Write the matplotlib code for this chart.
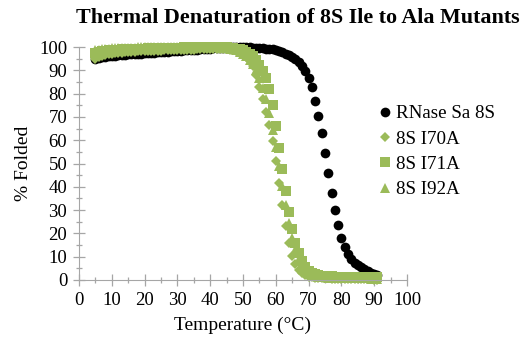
import matplotlib
matplotlib.use("Agg")
import matplotlib.pyplot as plt
from matplotlib.ticker import MultipleLocator

plt.rcParams["font.family"] = ["Liberation Serif", "DejaVu Serif"]

GREEN = "#9BBB59"
AXIS = "#A6A6A6"

temp_c = [5, 6, 7, 8, 9, 10, 11, 12, 13, 14,
          15, 16, 17, 18, 19, 20, 21, 22, 23, 24,
          25, 26, 27, 28, 29, 30, 31, 32, 33, 34,
          35, 36, 37, 38, 39, 40, 41, 42, 43, 44,
          45, 46, 47, 48, 49, 50, 51, 52, 53, 54,
          55, 56, 57, 58, 59, 60, 61, 62, 63, 64,
          65, 66, 67, 68, 69, 70, 71, 72, 73, 74,
          75, 76, 77, 78, 79, 80, 81, 82, 83, 84,
          85, 86, 87, 88, 89, 90, 91]

wt_8s = [95.0, 95.3, 95.6, 95.8, 96.0, 96.2, 96.3, 96.4, 96.5, 96.7,
         96.8, 96.9, 97.0, 97.1, 97.2, 97.3, 97.4, 97.5, 97.6, 97.7,
         97.8, 97.9, 98.0, 98.1, 98.2, 98.3, 98.4, 98.5, 98.6, 98.7,
         98.8, 98.9, 99.0, 99.1, 99.2, 99.3, 99.4, 99.5, 99.6, 99.7,
         99.8, 99.9, 99.9, 100.0, 100.0, 100.0, 99.9, 99.8, 99.7, 99.6,
         99.5, 99.4, 99.3, 99.2, 99.0, 98.7, 98.3, 97.8, 97.2, 96.5,
         95.7, 94.8, 93.6, 92.0, 89.8, 86.8, 83.0, 77.0, 70.5, 63.0,
         54.5, 46.0, 37.5, 30.0, 23.5, 18.0, 14.0, 11.0, 9.0, 7.5,
         6.3, 5.4, 4.6, 3.9, 3.2, 2.6, 2.0]

i70a = [94.8, 95.8, 96.3, 96.7, 97.0, 97.2, 97.4, 97.5, 97.6, 97.7,
        97.8, 97.9, 98.0, 98.1, 98.1, 98.2, 98.2, 98.3, 98.3, 98.4,
        98.4, 98.5, 98.5, 98.6, 98.6, 98.7, 98.7, 98.8, 98.8, 98.9,
        98.9, 99.0, 99.0, 99.1, 99.1, 99.2, 99.2, 99.2, 99.2, 99.1,
        99.0, 98.8, 98.5, 98.1, 97.6, 96.9, 95.8, 94.2, 91.8, 87.8,
        83.0, 77.5, 72.0, 66.5, 59.5, 51.0, 41.5, 32.0, 23.0, 16.0,
        10.5, 7.0, 4.5, 3.0, 2.0, 1.5, 1.2, 1.0, 0.9, 0.8,
        0.7, 0.7, 0.6, 0.6, 0.5, 0.5, 0.5, 0.4, 0.4, 0.4,
        0.4, 0.3, 0.3, 0.3, 0.3, 0.2, 0.2]

i71a = [97.5, 97.9, 98.2, 98.4, 98.6, 98.7, 98.8, 98.9, 99.0, 99.0,
        99.1, 99.1, 99.2, 99.2, 99.3, 99.3, 99.4, 99.4, 99.5, 99.5,
        99.5, 99.6, 99.6, 99.6, 99.7, 99.7, 99.7, 99.8, 99.8, 99.8,
        99.8, 99.9, 99.9, 99.9, 99.9, 100.0, 100.0, 100.0, 99.9, 99.9,
        99.8, 99.7, 99.5, 99.3, 99.0, 98.6, 98.0, 97.2, 96.0, 94.4,
        92.4, 89.8, 86.5, 82.0, 75.0, 66.0, 56.5, 47.5, 38.0, 29.0,
        22.0, 16.0, 11.5, 8.0, 5.5, 4.0, 3.0, 2.4, 2.0, 1.8,
        1.7, 1.6, 1.6, 1.5, 1.5, 1.5, 1.4, 1.4, 1.4, 1.3,
        1.3, 1.3, 1.2, 1.2, 1.2, 1.1, 1.1]

i92a = [98.5, 98.8, 99.0, 99.2, 99.3, 99.4, 99.5, 99.5, 99.6, 99.6,
        99.7, 99.7, 99.7, 99.8, 99.8, 99.8, 99.8, 99.9, 99.9, 99.9,
        99.9, 99.9, 100.0, 100.0, 100.0, 100.0, 100.0, 100.0, 100.0, 100.0,
        100.0, 100.0, 100.0, 100.0, 100.0, 99.9, 99.9, 99.8, 99.7, 99.6,
        99.5, 99.3, 99.0, 98.6, 98.0, 97.2, 96.1, 94.6, 92.6, 90.0,
        86.6, 82.5, 77.5, 71.5, 64.5, 57.0, 49.0, 40.5, 32.0, 24.5,
        18.0, 12.8, 9.0, 6.2, 4.3, 3.0, 2.2, 1.7, 1.4, 1.2,
        1.1, 1.0, 1.0, 0.9, 0.9, 0.9, 0.8, 0.8, 0.8, 0.8,
        0.7, 0.7, 0.7, 0.7, 0.6, 0.6, 0.6]

series = [
    ("RNase Sa 8S", wt_8s, "o", "black", 7.0),
    ("8S I70A", i70a, "D", GREEN, 5.5),
    ("8S I71A", i71a, "s", GREEN, 6.5),
    ("8S I92A", i92a, "^", GREEN, 7.5),
]

fig = plt.figure(figsize=(5.27, 3.37), dpi=100)
ax = fig.add_axes([79 / 527, 57 / 337, 328 / 527, 233 / 337])

for name, vals, mk, col, ms in series:
    ax.plot(temp_c, vals, linestyle="none", marker=mk, markersize=ms,
            color=col, markeredgewidth=0, label=name, clip_on=False)

ax.set_xlim(0, 100)
ax.set_ylim(0, 100)
ax.xaxis.set_major_locator(MultipleLocator(10))
ax.xaxis.set_minor_locator(MultipleLocator(5))
ax.yaxis.set_major_locator(MultipleLocator(10))
ax.yaxis.set_minor_locator(MultipleLocator(5))
ax.tick_params(which="major", direction="inout", length=9, width=0.9,
               color=AXIS, labelsize=13.5, pad=4)
ax.tick_params(which="minor", direction="inout", length=5, width=0.9, color=AXIS)
for k, sp in ax.spines.items():
    sp.set_visible(k in ("left", "bottom"))
    sp.set_color(AXIS)

ax.set_xlabel("Temperature (\u00b0C)", fontsize=14, labelpad=6)
ax.set_ylabel("% Folded", fontsize=14, labelpad=5)

fig.text(298 / 527, 1 - 18 / 337, "Thermal Denaturation of 8S Ile to Ala Mutants",
         ha="center", va="center", fontsize=15.8, fontweight="bold")

fig.legend(loc="upper left", bbox_to_anchor=(375 / 527, 1 - 105 / 337),
           frameon=False, fontsize=13.7, handlelength=1.0, handletextpad=0.1,
           labelspacing=0.42, borderpad=0, borderaxespad=0)

fig.savefig("out.png", dpi=100, facecolor="white")
